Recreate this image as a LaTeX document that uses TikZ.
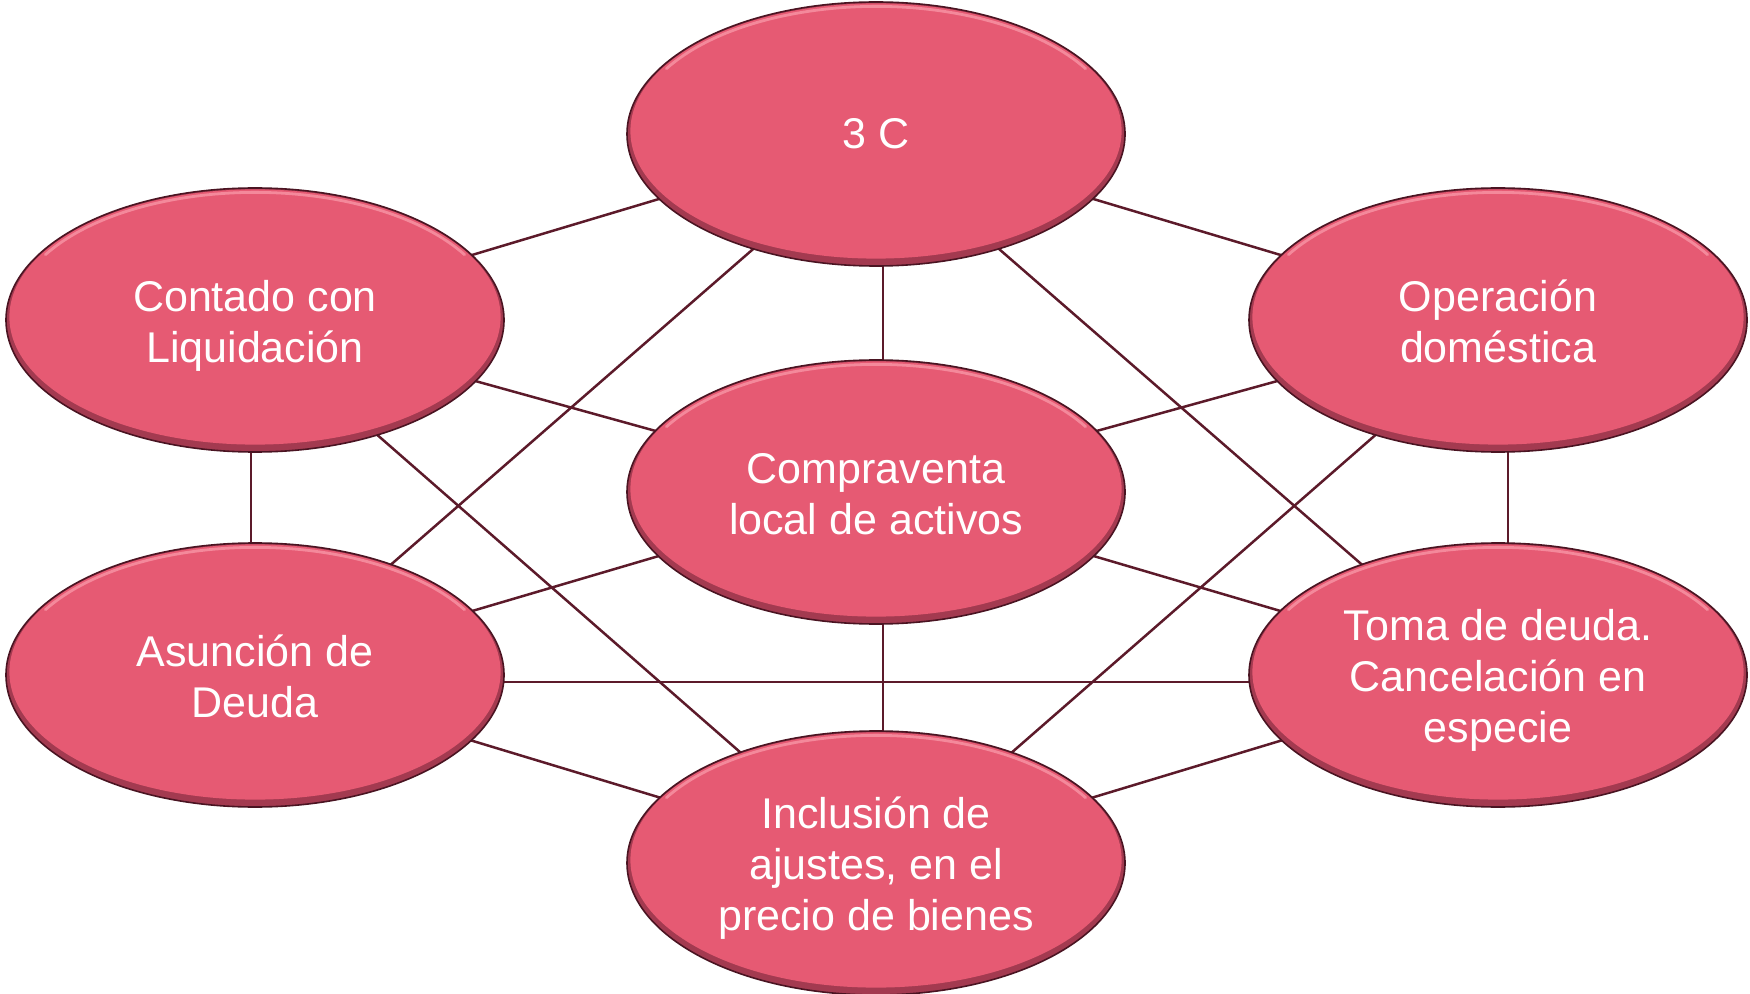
\documentclass[tikz,border=0pt]{standalone}
\usepackage{fontspec}
\setmainfont{Liberation Sans}
\usetikzlibrary{shapes.geometric,backgrounds}
\definecolor{pinkc}{HTML}{E65A73}
\definecolor{bevdark}{HTML}{A33A50}
\definecolor{rimc}{HTML}{4A1422}
\definecolor{linec}{HTML}{5C1A2A}
\definecolor{hilite}{HTML}{F4899B}
\newcommand{\tup}{\rule{0pt}{21pt}}
\newcommand{\tupb}{\rule{0pt}{17pt}}
\tikzset{
  oval/.style={ellipse, minimum width=249pt, minimum height=132pt, inner sep=0pt,
    draw=rimc, line width=0.8pt, fill=bevdark, text=white, align=center,
    font=\fontsize{21.5pt}{25.5pt}\selectfont,
    path picture={
      \fill[pinkc] ([yshift=1.5pt]path picture bounding box.center) ellipse [x radius=122.8pt, y radius=63.8pt];
      \draw[hilite, line width=1.4pt, line cap=round] ([yshift=1.5pt]path picture bounding box.center) ++(150:121pt and 62.3pt) arc[start angle=150, end angle=30, x radius=121pt, y radius=62.3pt];
    }},
  conn/.style={draw=linec, line width=1.25pt}
}
\begin{document}
\begin{tikzpicture}[x=0.5pt, y=-0.5pt]
\useasboundingbox (0,0) rectangle (1750,994);
\node[oval] (c3) at (876,134) {3 C};
\node[oval] (cc) at (255,320) {\tup Contado con\\Liquidación};
\node[oval] (od) at (1498,320) {\tupb Operación\\doméstica};
\node[oval] (cv) at (876,492) {\tupb Compraventa\\local de activos};
\node[oval] (ad) at (255,675) {\tupb Asunción de\\Deuda};
\node[oval] (td) at (1498,675) {\tup Toma de deuda.\\Cancelación en\\especie};
\node[oval] (ia) at (876,863) {\tup Inclusión de\\ajustes, en el\\precio de bienes};
\begin{scope}[on background layer]
\draw[conn] (c3.center) -- (cc.center);
\draw[conn] (c3.center) -- (od.center);
\draw[conn] ([xshift=3.5pt]c3.center) -- ([xshift=3.5pt]cv.center);
\draw[conn] ([yshift=-4pt]c3.center) -- ([yshift=-4pt]ad.center);
\draw[conn] ([yshift=-4pt]c3.center) -- ([yshift=-4pt]td.center);
\draw[conn] (cc.center) -- (cv.center);
\draw[conn] ([xshift=-2pt]cc.center) -- ([xshift=-2pt]ad.center);
\draw[conn] ([yshift=-4pt]cc.center) -- ([yshift=-4pt]ia.center);
\draw[conn] (od.center) -- (cv.center);
\draw[conn] ([xshift=5pt]od.center) -- ([xshift=5pt]td.center);
\draw[conn] ([yshift=-4pt]od.center) -- ([yshift=-4pt]ia.center);
\draw[conn] (cv.center) -- (ad.center);
\draw[conn] (cv.center) -- (td.center);
\draw[conn] ([xshift=3.5pt]cv.center) -- ([xshift=3.5pt]ia.center);
\draw[conn] ([yshift=-3.5pt]ad.center) -- ([yshift=-3.5pt]td.center);
\draw[conn] (ad.center) -- (ia.center);
\draw[conn] (td.center) -- (ia.center);
\end{scope}
\end{tikzpicture}
\end{document}
